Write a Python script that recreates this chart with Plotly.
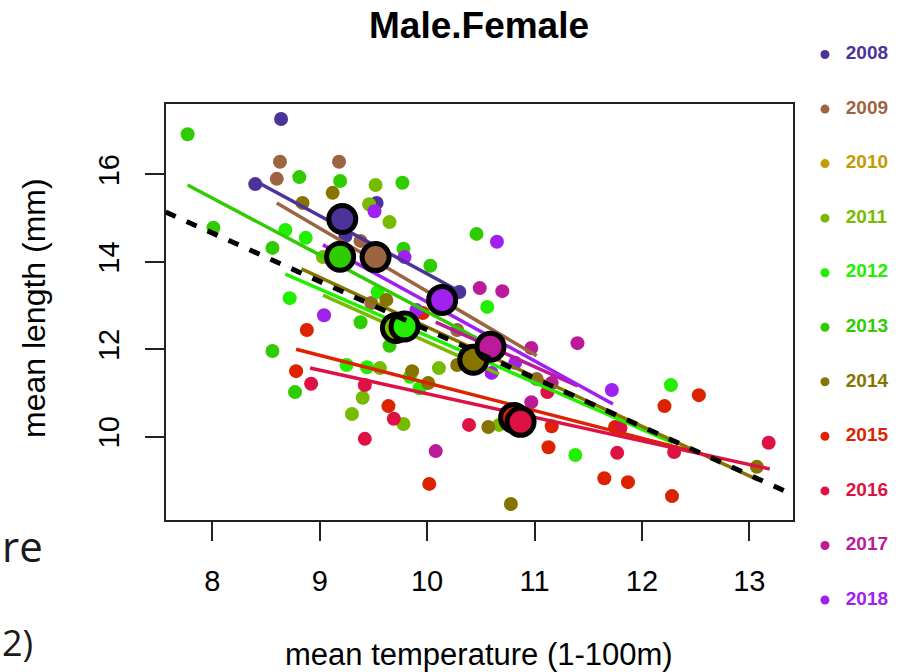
import plotly.graph_objects as go

W, H = 904, 672

# ---------------------------------------------------------------- data
years = [2008, 2009, 2010, 2011, 2012, 2013, 2014, 2015, 2016, 2017, 2018]
year_colors = ["#4B3399", "#9C6440", "#C49A00", "#77BB00", "#22EE00", "#2ECC00",
               "#857500", "#DD2200", "#DD1144", "#BB1A99", "#A020F0"]

# station means per year: temperature (1-100 m) and mean length (mm)
temp_2008 = [8.64, 8.40, 9.53, 9.24, 10.30]
length_2008 = [17.27, 15.78, 15.35, 14.59, 13.31]
temp_2009 = [8.63, 8.60, 9.18, 9.38, 9.48, 10.28, 11.02]
length_2009 = [16.29, 15.90, 16.29, 14.48, 13.06, 12.44, 11.32]
temp_2010 = []
length_2010 = []
temp_2011 = [9.52, 9.46, 9.65, 9.03, 9.56, 9.40, 9.30, 9.78, 10.11, 10.67]
length_2011 = [15.76, 15.32, 14.91, 14.11, 11.57, 10.89, 10.52, 10.29, 11.57, 10.27]
temp_2012 = [8.68, 8.87, 8.72, 9.54, 9.25, 9.44, 9.84, 9.93, 10.56, 11.38, 12.27]
length_2012 = [14.73, 14.55, 13.17, 13.31, 11.64, 11.59, 11.37, 11.11, 12.97, 9.58, 11.18]
temp_2013 = [7.77, 8.81, 9.19, 9.77, 8.01, 8.56, 9.78, 10.03, 10.46, 9.38, 9.65, 8.56, 8.77]
length_2013 = [16.92, 15.94, 15.85, 15.81, 14.78, 14.32, 14.30, 13.91, 14.64, 12.62, 12.08, 11.96, 11.02]
temp_2014 = [9.12, 8.84, 9.62, 9.86, 10.01, 10.28, 10.57, 10.78, 13.07]
length_2014 = [15.58, 15.35, 13.13, 11.50, 11.23, 11.64, 10.22, 8.46, 9.31]
temp_2015 = [8.88, 8.78, 9.64, 9.96, 10.02, 11.16, 11.13, 12.53, 12.21, 11.65, 11.87, 12.28, 11.75]
length_2015 = [12.44, 11.50, 10.70, 12.83, 8.92, 10.24, 9.76, 10.95, 10.70, 9.05, 8.96, 8.64, 10.22]
temp_2016 = [8.92, 9.42, 9.69, 9.42, 10.39, 11.12, 11.80, 11.77, 12.30, 13.18]
length_2016 = [11.21, 11.18, 10.41, 9.95, 10.27, 11.02, 10.20, 9.63, 9.65, 9.86]
temp_2017 = [10.49, 10.70, 10.97, 11.40, 11.16, 10.97, 10.08]
length_2017 = [13.40, 13.33, 12.03, 12.14, 11.23, 10.79, 9.67]
temp_2018 = [9.51, 9.79, 10.65, 9.04, 9.90, 10.82, 10.60, 11.72]
length_2018 = [15.16, 14.11, 14.46, 12.78, 12.90, 11.69, 11.46, 11.07]

# yearly means
mean_temp = [9.21, 9.52, None, 9.71, 9.79, 9.19, 10.43, 10.81, 10.87, 10.59, 10.14]
mean_length = [14.98, 14.11, None, 12.49, 12.52, 14.12, 11.76, 10.43, 10.34, 12.06, 13.13]

# yearly regression lines, drawn over each year's temperature span
fit_temp_start = [8.40, 8.60, None, 9.03, 8.68, 7.77, 8.83, 8.78, 8.91, 10.08, 9.03]
fit_temp_end = [10.30, 11.02, None, 10.67, 12.29, 10.46, 13.08, 12.53, 13.19, 11.40, 11.73]
fit_length_start = [15.85, 15.35, None, 13.24, 13.72, 15.76, 13.84, 12.00, 11.57, 12.62, 14.39]
fit_length_end = [13.33, 11.85, None, 11.43, 9.86, 12.26, 9.01, 9.63, 9.26, 11.16, 10.75]

# pooled regression over all years
overall_intercept = 23.52
overall_slope = -1.1074

x_ticks = [8, 9, 10, 11, 12, 13]
y_ticks = [10, 12, 14, 16]

# ---------------------------------------------------------------- layout helpers
X_RANGE = [7.565, 13.402]
Y_RANGE = [8.105, 17.613]


def px(x):
    return x / W


def py(y):
    return 1 - y / H


temps = [temp_2008, temp_2009, temp_2010, temp_2011, temp_2012, temp_2013,
         temp_2014, temp_2015, temp_2016, temp_2017, temp_2018]
lengths = [length_2008, length_2009, length_2010, length_2011, length_2012, length_2013,
           length_2014, length_2015, length_2016, length_2017, length_2018]

fig = go.Figure()

# points
for yr, col, xs, ys in zip(years, year_colors, temps, lengths):
    if not xs:
        continue
    fig.add_trace(go.Scatter(x=xs, y=ys, mode="markers", name=str(yr),
                             marker=dict(size=14, color=col, line=dict(width=0)),
                             showlegend=False, hoverinfo="x+y"))

# yearly fits
for yr, col, x0, x1, y0, y1 in zip(years, year_colors, fit_temp_start, fit_temp_end,
                                   fit_length_start, fit_length_end):
    if x0 is None:
        continue
    fig.add_trace(go.Scatter(x=[x0, x1], y=[y0, y1], mode="lines",
                             line=dict(color=col, width=3.5),
                             showlegend=False, hoverinfo="skip"))

# yearly means
for yr, col, mx, my in zip(years, year_colors, mean_temp, mean_length):
    if mx is None:
        continue
    fig.add_trace(go.Scatter(x=[mx], y=[my], mode="markers",
                             marker=dict(size=27, color=col, line=dict(width=5, color="black")),
                             showlegend=False, hoverinfo="x+y"))

# pooled fit
fig.add_trace(go.Scatter(x=X_RANGE,
                         y=[overall_intercept + overall_slope * v for v in X_RANGE],
                         mode="lines", line=dict(color="black", width=5, dash="11px,12px"),
                         showlegend=False, hoverinfo="skip"))

# year key on the right
fig.add_trace(go.Scatter(x=[0.24] * len(years), y=years, mode="markers",
                         marker=dict(size=9, color=year_colors),
                         xaxis="x2", yaxis="y2", showlegend=False, hoverinfo="skip"))
fig.add_trace(go.Scatter(x=[0.44] * len(years), y=years, mode="text",
                         text=[str(y) for y in years], textposition="middle right",
                         textfont=dict(family="Liberation Sans", size=19, color=year_colors,
                                       weight="bold"),
                         xaxis="x2", yaxis="y2", showlegend=False, hoverinfo="skip"))

axis_common = dict(showgrid=False, zeroline=False, showline=True, mirror=True,
                   linecolor="#222", linewidth=2, ticks="outside", ticklen=19,
                   tickwidth=2, tickcolor="#222",
                   tickfont=dict(family="Liberation Sans", size=29, color="black"))

fig.update_layout(
    width=W, height=H,
    margin=dict(l=0, r=0, t=0, b=0),
    paper_bgcolor="white", plot_bgcolor="white",
    xaxis=dict(domain=[px(165.6), px(792.5)], range=X_RANGE, tickvals=x_ticks,
               ticklabelstandoff=16, **axis_common),
    yaxis=dict(domain=[py(519.5), py(104)], range=Y_RANGE, tickvals=y_ticks,
               tickangle=-90, ticklabelstandoff=14, **axis_common),
    xaxis2=dict(domain=[px(800), 1], range=[0, 1], visible=False, anchor="y2"),
    yaxis2=dict(domain=[py(615), py(40)], range=[2018.275, 2007.734], visible=False,
                anchor="x2"),
    annotations=[
        dict(text="<b>Male.Female</b>", x=px(479), y=py(26), xref="paper", yref="paper",
             showarrow=False, xanchor="center", yanchor="middle",
             font=dict(family="Liberation Sans", size=37, color="black")),
        dict(text="mean temperature (1-100m)", x=px(479), y=py(654), xref="paper",
             yref="paper", showarrow=False, xanchor="center", yanchor="middle",
             font=dict(family="Liberation Sans", size=31, color="black")),
        dict(text="mean length (mm)", x=px(34), y=py(308), xref="paper", yref="paper",
             showarrow=False, xanchor="center", yanchor="middle", textangle=-90,
             font=dict(family="Liberation Sans", size=32, color="black")),
        dict(text="re", x=0.001, y=py(545), xref="paper", yref="paper",
             showarrow=False, xanchor="left", yanchor="middle", borderpad=0,
             font=dict(family="Open Sans", size=42, color="#1a1a1a")),
        dict(text="2)", x=0.001, y=py(642), xref="paper", yref="paper",
             showarrow=False, xanchor="left", yanchor="middle", borderpad=0,
             font=dict(family="Open Sans", size=36, color="#1a1a1a")),
    ],
)

fig.write_html("out.html")
